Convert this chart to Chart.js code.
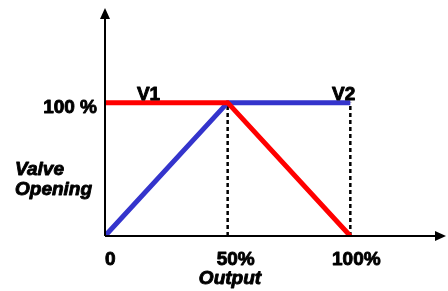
<!DOCTYPE html>
<html>
<head>
<meta charset="utf-8">
<script src="https://cdn.jsdelivr.net/npm/chart.js@4/dist/chart.umd.min.js"></script>
<style>
  html, body { margin: 0; padding: 0; background: #fff; }
  #wrap { width: 448px; height: 291px; }
</style>
</head>
<body>
<div id="wrap"><canvas id="myChart" width="448" height="291"></canvas></div>
<script>
const outputX = [0, 50, 100];
const valveV1 = [100, 100, 0];
const valveV2 = [0, 100, 100];
const tickValues = [0, 50, 100];
const tickLabels = ["0", "50%", "100%"];
const seriesNames = ["V1", "V2"];
const yLabel = "100 %";
const xTitle = "Output";
const yTitle = ["Valve", "Opening"];

const FONT = "Liberation Sans, Arial, sans-serif";

function punti(xs, ys) {
  return xs.map((x, i) => ({ x: x, y: ys[i] }));
}

// linee tratteggiate verticali a 50% e 100%
function tratteggio(xv) {
  return {
    data: [{ x: xv, y: 0 }, { x: xv, y: 100 }],
    borderColor: "#000",
    borderWidth: 2.5,
    borderDash: [4, 3],
    pointRadius: 0,
    order: 3,
  };
}

// testo un po' piu' pesante, come nel disegno originale
function scrivi(ctx, testo, x, y) {
  ctx.strokeText(testo, x, y);
  ctx.fillText(testo, x, y);
}

const assiPlugin = {
  id: "assi",
  afterDatasetsDraw(chart) {
    const ctx = chart.ctx;
    const a = chart.chartArea;
    const sx = chart.scales.x;
    const sy = chart.scales.y;
    const x0 = sx.getPixelForValue(0);
    const y0 = sy.getPixelForValue(0);

    ctx.save();
    ctx.strokeStyle = "#000";
    ctx.fillStyle = "#000";
    ctx.lineWidth = 2;
    ctx.beginPath();
    ctx.moveTo(x0, y0);
    ctx.lineTo(x0, a.top + 8);
    ctx.moveTo(x0, y0);
    ctx.lineTo(a.right - 8, y0);
    ctx.stroke();

    // frecce
    ctx.beginPath();
    ctx.moveTo(x0, a.top);
    ctx.lineTo(x0 - 5, a.top + 11);
    ctx.lineTo(x0 + 5, a.top + 11);
    ctx.closePath();
    ctx.fill();
    ctx.beginPath();
    ctx.moveTo(a.right, y0);
    ctx.lineTo(a.right - 11, y0 - 5);
    ctx.lineTo(a.right - 11, y0 + 5);
    ctx.closePath();
    ctx.fill();

    ctx.lineWidth = 0.9;
    ctx.lineJoin = "round";
    ctx.font = "bold 19px " + FONT;
    ctx.textBaseline = "alphabetic";
    ctx.textAlign = "left";
    scrivi(ctx, tickLabels[0], sx.getPixelForValue(tickValues[0]), 265);
    ctx.textAlign = "center";
    scrivi(ctx, tickLabels[1], sx.getPixelForValue(tickValues[1]) + 8, 265);
    scrivi(ctx, tickLabels[2], sx.getPixelForValue(tickValues[2]) + 6, 265);

    ctx.textAlign = "right";
    scrivi(ctx, yLabel, 97, sy.getPixelForValue(100) + 10);

    ctx.textAlign = "left";
    scrivi(ctx, seriesNames[0], sx.getPixelForValue(13), sy.getPixelForValue(100) - 3);
    ctx.textAlign = "right";
    scrivi(ctx, seriesNames[1], sx.getPixelForValue(102), sy.getPixelForValue(100) - 3);

    ctx.font = "italic bold 19px " + FONT;
    ctx.textAlign = "left";
    scrivi(ctx, yTitle[0], 15, 175);
    scrivi(ctx, yTitle[1], 15, 195);
    ctx.textAlign = "center";
    scrivi(ctx, xTitle, 230, 284);
    ctx.restore();
  },
};

const ctx = document.getElementById("myChart").getContext("2d");

new Chart(ctx, {
  type: "line",
  data: {
    datasets: [
      {
        label: seriesNames[0],
        data: punti(outputX, valveV1),
        borderColor: "#ff0000",
        borderWidth: 5,
        pointRadius: 0,
        order: 1,
      },
      {
        label: seriesNames[1],
        data: punti(outputX, valveV2),
        borderColor: "#3434cc",
        borderWidth: 5,
        pointRadius: 0,
        order: 2,
      },
      tratteggio(50),
      tratteggio(100),
    ],
  },
  options: {
    responsive: false,
    animation: false,
    layout: { padding: { left: 105, right: 2, top: 8, bottom: 55 } },
    scales: {
      x: { type: "linear", min: 0, max: 139, display: false },
      y: { type: "linear", min: 0, max: 171, display: false },
    },
    plugins: {
      legend: { display: false },
      tooltip: { enabled: false },
    },
  },
  plugins: [assiPlugin],
});
</script>
</body>
</html>
